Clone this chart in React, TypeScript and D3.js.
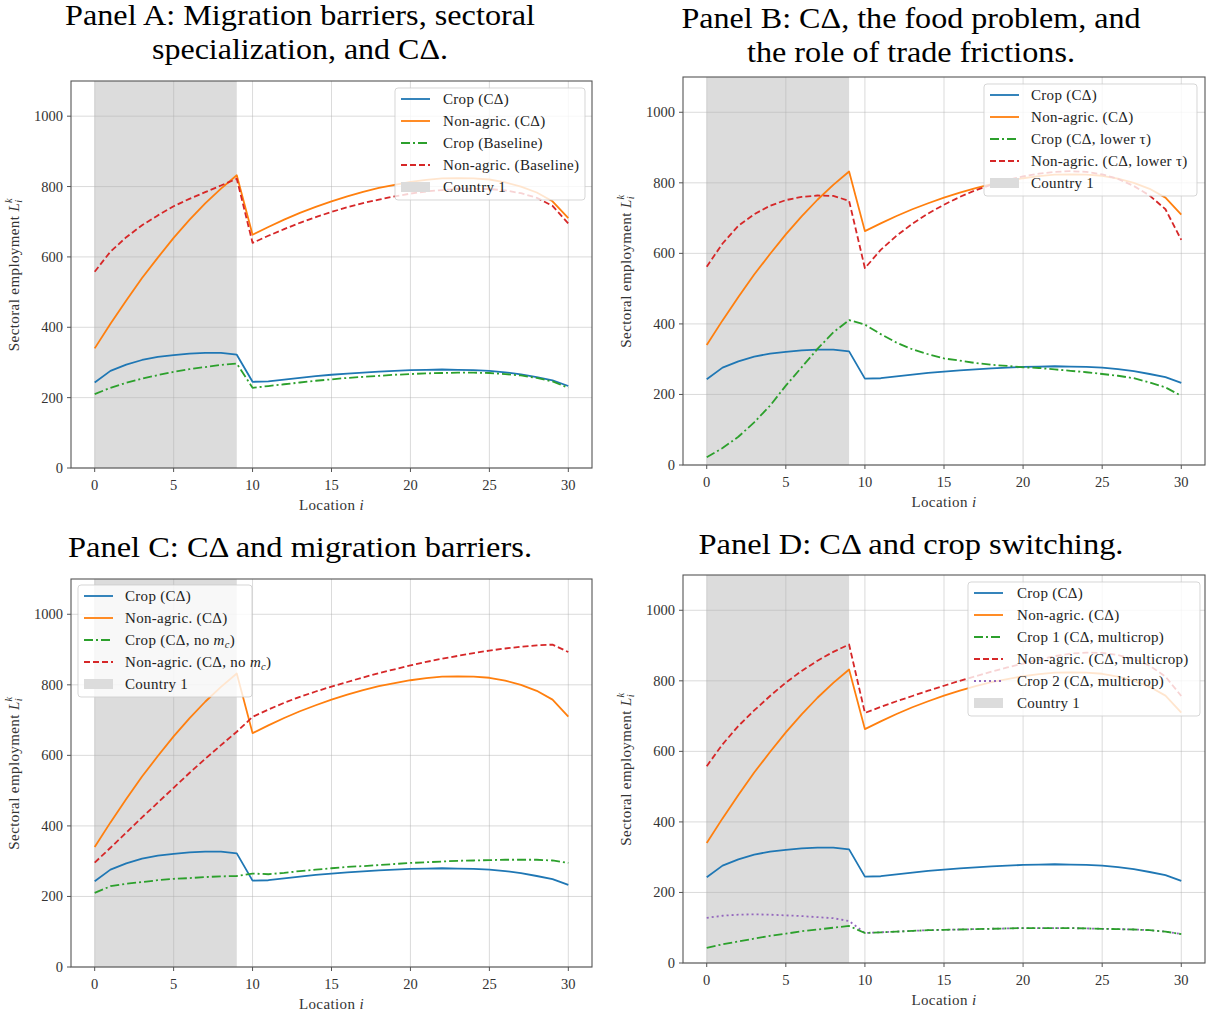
import React from "react";
import * as d3 from "d3";

const locations = [0,1,2,3,4,5,6,7,8,9,10,11,12,13,14,15,16,17,18,19,20,21,22,23,24,25,26,27,28,29,30];
const xTicks = [0,5,10,15,20,25,30];
const yTicks = [0,200,400,600,800,1000];
const countryOneSpan = [0, 9];

const cropCD = [243,276,294,307,316,321,325,327,327,322,245,246,251,256,261,265,268,271,274,276,278,279,280,279,278,276,272,266,258,249,233];
const nonAgCD = [340,410,476,540,598,654,705,752,794,832,663,685,706,725,742,758,772,785,796,805,813,819,823,824,823,820,812,800,783,758,710];
const cropBase = [210,228,242,254,264,273,281,287,293,297,228,233,238,243,248,252,256,259,262,265,267,269,270,271,271,270,267,263,256,246,228];
const nonAgBase = [558,615,656,690,718,744,765,784,803,822,640,660,679,697,713,728,741,753,763,772,780,786,790,793,794,793,789,781,768,745,695];
const cropLowTau = [22,48,80,121,168,225,277,329,376,411,398,371,347,328,314,302,296,289,284,281,277,275,271,267,263,258,253,246,234,220,196];
const nonAgLowTau = [562,628,678,711,735,751,760,764,763,749,558,610,650,684,713,738,760,779,795,808,818,826,831,833,831,824,811,791,764,725,638];
const cropNoMc = [210,229,236,241,246,250,252,255,257,258,265,263,267,272,276,280,284,286,289,292,295,297,299,301,302,303,304,304,304,302,295];
const nonAgNoMc = [296,338,381,424,466,508,550,590,629,667,709,730,749,766,781,795,808,821,833,844,855,865,874,882,890,897,903,908,912,914,893];
const crop1Multi = [43,53,61,69,77,83,90,95,100,105,85,87,89,91,93,94,95,96,97,98,99,99,99,99,98,97,96,95,93,89,82];
const nonAgMulti = [558,620,672,716,757,795,828,857,882,903,709,726,742,757,772,786,800,813,826,838,849,860,870,877,880,879,873,862,843,812,757];
const crop2Multi = [128,134,137,138,137,135,133,130,127,119,85,87,89,91,93,94,95,96,97,98,99,99,99,99,98,97,96,95,93,89,82];

const C_BLUE = "#1f77b4", C_ORANGE = "#ff7f0e", C_GREEN = "#2ca02c", C_RED = "#d62728", C_PURPLE = "#9467bd";
const SOLID = "none", DASH = "6,3", DASHDOT = "9,3,2,3", DOT = "2,3";

const SERIF = "'Liberation Serif', 'DejaVu Serif', serif";

type Series = { values: number[]; color: string; dash: string; label: React.ReactNode };

const noMc = (pre: string) => (
  <>
    {pre}(CΔ, no <tspan fontStyle="italic">m</tspan>
    <tspan fontSize="10.5" dy="3" fontStyle="italic">c</tspan>
    <tspan dy="-3">)</tspan>
  </>
);

const panels = [
  {
    key: "A",
    title: ["Panel A: Migration barriers, sectoral", "specialization, and CΔ."],
    titleW: [470, 296],
    titleY: [25, 59], titleX: 300,
    box: { l: 71, r: 592, t: 81, b: 468 },
    legend: { x: 395, y: 88, w: 190, handleX: 401, textX: 443 },
    series: [
      { values: cropCD, color: C_BLUE, dash: SOLID, label: "Crop (CΔ)" },
      { values: nonAgCD, color: C_ORANGE, dash: SOLID, label: "Non-agric. (CΔ)" },
      { values: cropBase, color: C_GREEN, dash: DASHDOT, label: "Crop (Baseline)" },
      { values: nonAgBase, color: C_RED, dash: DASH, label: "Non-agric. (Baseline)" },
    ] as Series[],
  },
  {
    key: "B",
    title: ["Panel B: CΔ, the food problem, and", "the role of trade frictions."],
    titleW: [459, 328],
    titleY: [28, 62], titleX: 911,
    box: { l: 683, r: 1205, t: 77, b: 465 },
    legend: { x: 984, y: 84, w: 213, handleX: 990, textX: 1031 },
    series: [
      { values: cropCD, color: C_BLUE, dash: SOLID, label: "Crop (CΔ)" },
      { values: nonAgCD, color: C_ORANGE, dash: SOLID, label: "Non-agric. (CΔ)" },
      { values: cropLowTau, color: C_GREEN, dash: DASHDOT, label: "Crop (CΔ, lower τ)" },
      { values: nonAgLowTau, color: C_RED, dash: DASH, label: "Non-agric. (CΔ, lower τ)" },
    ] as Series[],
  },
  {
    key: "C",
    title: ["Panel C: CΔ and migration barriers."],
    titleW: [464],
    titleY: [557], titleX: 300,
    box: { l: 71, r: 592, t: 579, b: 967 },
    legend: { x: 78, y: 585, w: 174, handleX: 84, textX: 125 },
    series: [
      { values: cropCD, color: C_BLUE, dash: SOLID, label: "Crop (CΔ)" },
      { values: nonAgCD, color: C_ORANGE, dash: SOLID, label: "Non-agric. (CΔ)" },
      { values: cropNoMc, color: C_GREEN, dash: DASHDOT, label: noMc("Crop ") },
      { values: nonAgNoMc, color: C_RED, dash: DASH, label: noMc("Non-agric. ") },
    ] as Series[],
  },
  {
    key: "D",
    title: ["Panel D: CΔ and crop switching."],
    titleW: [425],
    titleY: [554], titleX: 911,
    box: { l: 683, r: 1205, t: 575, b: 963 },
    legend: { x: 968, y: 582, w: 232, handleX: 974, textX: 1017 },
    series: [
      { values: cropCD, color: C_BLUE, dash: SOLID, label: "Crop (CΔ)" },
      { values: nonAgCD, color: C_ORANGE, dash: SOLID, label: "Non-agric. (CΔ)" },
      { values: crop1Multi, color: C_GREEN, dash: DASHDOT, label: "Crop 1 (CΔ, multicrop)" },
      { values: nonAgMulti, color: C_RED, dash: DASH, label: "Non-agric. (CΔ, multicrop)" },
      { values: crop2Multi, color: C_PURPLE, dash: DOT, label: "Crop 2 (CΔ, multicrop)" },
    ] as Series[],
  },
];

function Panel({ p }: { p: (typeof panels)[number] }) {
  const { l, r, t, b } = p.box;
  const x = d3.scaleLinear().domain([-1.5, 31.5]).range([l, r]);
  const y = d3.scaleLinear().domain([0, 1100]).range([b, t]);
  const line = d3.line<number>().x((_, i) => x(locations[i])).y((v) => y(v));
  const drawOrder = p.key === "D" ? [0, 1, 4, 2, 3] : p.series.map((_, i) => i);
  const rowH = 22;
  const nRows = p.series.length + 1;
  const lg = p.legend;
  const midY = (t + b) / 2;
  return (
    <g>
      {p.title.map((s, i) => (
        <text key={i} x={p.titleX} y={p.titleY[i]} textAnchor="middle" fontFamily={SERIF} fontSize={29} fill="#000"
          textLength={p.titleW[i]} lengthAdjust="spacingAndGlyphs">
          {s}
        </text>
      ))}
      <rect x={x(countryOneSpan[0])} y={t} width={x(countryOneSpan[1]) - x(countryOneSpan[0])} height={b - t} fill="#dcdcdc" />
      {xTicks.map((v) => (
        <line key={"gx" + v} x1={x(v)} x2={x(v)} y1={t} y2={b} stroke="#b0b0b0" strokeOpacity={0.45} strokeWidth={1} />
      ))}
      {yTicks.map((v) => (
        <line key={"gy" + v} x1={l} x2={r} y1={y(v)} y2={y(v)} stroke="#b0b0b0" strokeOpacity={0.45} strokeWidth={1} />
      ))}
      {drawOrder.map((i) => {
        const s = p.series[i];
        return (
          <path key={"s" + i} d={line(s.values) || ""} fill="none" stroke={s.color} strokeWidth={1.8}
            strokeDasharray={s.dash === SOLID ? undefined : s.dash} strokeLinejoin="round" />
        );
      })}
      <rect x={l} y={t} width={r - l} height={b - t} fill="none" stroke="#555" strokeWidth={1.1} />
      {xTicks.map((v) => (
        <g key={"tx" + v}>
          <line x1={x(v)} x2={x(v)} y1={b} y2={b + 4} stroke="#555" />
          <text x={x(v)} y={b + 22} textAnchor="middle" fontFamily={SERIF} fontSize={14.5} fill="#333">{v}</text>
        </g>
      ))}
      {yTicks.map((v) => (
        <g key={"ty" + v}>
          <line x1={l - 4} x2={l} y1={y(v)} y2={y(v)} stroke="#555" />
          <text x={l - 8} y={y(v) + 5} textAnchor="end" fontFamily={SERIF} fontSize={14.5} fill="#333">{v}</text>
        </g>
      ))}
      <text x={(l + r) / 2} y={b + 42} textAnchor="middle" fontFamily={SERIF} fontSize={15} letterSpacing={0.4} fill="#333">
        Location <tspan fontStyle="italic">i</tspan>
      </text>
      <text transform={`translate(${l - 52},${midY}) rotate(-90)`} textAnchor="middle" fontFamily={SERIF} fontSize={15} letterSpacing={0.4} fill="#333">
        Sectoral employment <tspan fontStyle="italic">L</tspan>
        <tspan fontSize="10.5" fontStyle="italic" dy="3">i</tspan>
        <tspan fontSize="10.5" fontStyle="italic" dx="-3.5" dy="-10">k</tspan>
      </text>
      <g>
        <rect x={lg.x} y={lg.y} width={lg.w} height={nRows * rowH + 2} rx={3} fill="#fff" fillOpacity={0.8} stroke="#ccc" strokeOpacity={0.8} />
        {p.series.map((s, i) => {
          const cy = lg.y + 11 + i * rowH;
          return (
            <g key={"lg" + i}>
              <line x1={lg.handleX} x2={lg.handleX + 29} y1={cy} y2={cy} stroke={s.color} strokeWidth={1.8}
                strokeDasharray={s.dash === SOLID ? undefined : s.dash} />
              <text x={lg.textX} y={cy + 5} fontFamily={SERIF} fontSize={15} letterSpacing={0.3} fill="#222">{s.label}</text>
            </g>
          );
        })}
        {(() => {
          const cy = lg.y + 11 + p.series.length * rowH;
          return (
            <g>
              <rect x={lg.handleX} y={cy - 5} width={29} height={10} fill="#dcdcdc" />
              <text x={lg.textX} y={cy + 5} fontFamily={SERIF} fontSize={15} letterSpacing={0.3} fill="#222">Country 1</text>
            </g>
          );
        })()}
      </g>
    </g>
  );
}

export default function App() {
  return (
    <svg width={1211} height={1014} style={{ display: "block", position: "absolute", left: 0, top: 0, background: "#fff" }}>
      <rect x={0} y={0} width={1211} height={1014} fill="#fff" />
      {panels.map((p) => (
        <Panel key={p.key} p={p} />
      ))}
    </svg>
  );
}
